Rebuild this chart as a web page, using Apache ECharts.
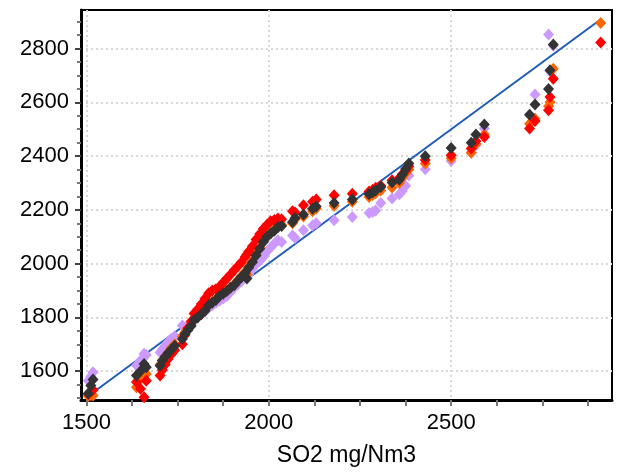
<!DOCTYPE html>
<html>
<head>
<meta charset="utf-8">
<script src="https://cdn.jsdelivr.net/npm/echarts@6/dist/echarts.min.js"></script>
<style>html,body{margin:0;padding:0;background:#fff}#c{width:624px;height:474px}</style>
</head>
<body>
<div id="c"></div>
<script>
// Shared x values (SO2 mg/Nm3)
var xs = [1505,1512,1518,1637,1648,1658,1664,1702,1708,1716,1724,1732,1742,1763,1770,1778,1787,
  1795,1805,1815,1825,1835,1845,1855,1865,1875,1885,1895,1905,1915,1925,1935,1940,1945,1955,1965,1975,1985,1995,2005,2015,2025,2035,
  2065,2072,2095,2120,2130,2179,2229,2275,2285,2293,2307,2338,2358,2366,2375,2384,2429,2500,2555,2568,2591,2715,2730,2767,2771,2780,2910];
var purpleY = [1565,1580,1596,1621,1640,1665,1660,1670,1682,1695,1710,1720,1730,1770,1760,1770,1778,
  1795,1805,1812,1822,1835,1845,1855,1862,1870,1880,1895,1910,1922,1935,1948,1950,1960,1980,2000,2010,2025,2045,2060,2075,2087,2080,
  2105,2095,2124,2142,2150,2161,2173,2188,2192,2198,2225,2242,2258,2270,2290,2328,2351,2382,2412,2440,2502,2554,2629,2852,2715,2810,null];
var orangeY = [1508,1512,1510,1540,1570,1600,1590,1625,1640,1655,1670,1685,1700,1730,1745,1760,1775,
  1795,1805,1815,1828,1848,1858,1868,1882,1890,1900,1912,1922,1938,1955,1970,1960,1990,2010,2035,2060,2085,2105,2118,2128,2140,2145,
  2150,2165,2175,2195,2205,2215,2230,2248,2255,2262,2272,2283,2300,2318,2335,2350,2372,2392,2412,2445,2480,2520,2539,2585,2600,2725,2895];
var redY = [1515,1525,1530,1560,1535,1503,1565,1584,1605,1625,1645,1662,1678,1700,1735,1760,1785,
  1815,1830,1850,1870,1890,1900,1905,1915,1930,1945,1960,1975,1990,2005,2025,2035,2045,2065,2090,2110,2130,2145,2158,2162,2168,2165,
  2195,2190,2217,2230,2238,2254,2260,2268,2275,2282,2290,2310,2318,2332,2345,2362,2385,2403,2428,2455,2471,2502,2530,2570,2620,2687,2822];
var darkY = [1517,1547,1569,1584,1600,1627,1615,1620,1640,1655,1668,1680,1695,1720,1738,1752,1768,
  1790,1800,1812,1825,1845,1855,1865,1880,1888,1898,1910,1920,1935,1950,1965,1945,1985,2005,2030,2055,2080,2100,2112,2122,2135,2140,
  2155,2170,2183,2204,2212,2225,2238,2258,2265,2272,2285,2302,2312,2330,2352,2372,2399,2430,2449,2480,2517,2554,2592,2649,2719,2815,null];
// identity reference line end points
var lineX = [1519, 2904];
var lineY = [1522, 2902];
// ticks
var xMajorTicks = [1500, 2000, 2500];
var xMinorTicks = [1625,1750,1875,2125,2250,2375,2625,2750,2875];
var yMajorTicks = [1600, 1800, 2000, 2200, 2400, 2600, 2800];
var yMinorTicks = [1500,1550,1650,1700,1750,1850,1900,1950,2050,2100,2150,2250,2300,2350,2450,2500,2550,2650,2700,2750,2850,2900];
var xName = 'SO2 mg/Nm3';

function zip(x, y) {
  var out = [];
  for (var i = 0; i < x.length; i++) { if (y[i] != null) out.push([x[i], y[i]]); }
  return out;
}
function plain(v) { return String(Math.round(v)); }

var XMIN = 1485, XMAX = 2941, YMIN = 1493, YMAX = 2943;
var font = 'Liberation Sans, Arial, sans-serif';
var grid = { left: 81, right: 12, top: 10, bottom: 74, show: true, borderColor: '#000', borderWidth: 2, backgroundColor: '#fff' };
var splitStyle = { show: true, lineStyle: { color: '#d8d8d8', width: 2, type: [2, 3] } };

var chart = echarts.init(document.getElementById('c'));
var mk = function (name, color, ys, z) {
  return { name: name, type: 'scatter', symbol: 'diamond', symbolSize: [11, 12], data: zip(xs, ys),
    itemStyle: { color: color, opacity: 1 }, z: z, clip: true, animation: false };
};
chart.setOption({
  animation: false,
  grid: grid,
  xAxis: [{
    type: 'value', min: XMIN, max: XMAX, position: 'bottom',
    name: xName, nameLocation: 'middle', nameGap: 44,
    nameTextStyle: { fontFamily: font, fontSize: 23, color: '#000' },
    axisLine: { onZero: false, lineStyle: { color: '#000', width: 3 } },
    axisTick: { show: true, customValues: xMajorTicks, length: 6, lineStyle: { color: '#777', width: 2 } },
    axisLabel: { customValues: xMajorTicks, formatter: plain, margin: 12, fontFamily: font, fontSize: 22, color: '#000' },
    splitLine: splitStyle
  }, {
    type: 'value', min: XMIN, max: XMAX, position: 'bottom',
    axisLine: { show: false, onZero: false },
    axisTick: { show: true, customValues: xMinorTicks, length: 6, lineStyle: { color: '#777', width: 2 } },
    axisLabel: { show: false },
    splitLine: { show: false }
  }],
  yAxis: [{
    type: 'value', min: YMIN, max: YMAX, position: 'left',
    axisLine: { onZero: false, lineStyle: { color: '#000', width: 3 } },
    axisTick: { show: true, customValues: yMajorTicks, length: 6, lineStyle: { color: '#444', width: 2 } },
    axisLabel: { customValues: yMajorTicks, formatter: plain, margin: 12, fontFamily: font, fontSize: 22, color: '#000' },
    splitLine: splitStyle
  }, {
    type: 'value', min: YMIN, max: YMAX, position: 'left',
    axisLine: { show: false, onZero: false },
    axisTick: { show: true, customValues: yMinorTicks, length: 4, lineStyle: { color: '#777', width: 2 } },
    axisLabel: { show: false },
    splitLine: { show: false }
  }],
  series: [
    { type: 'line', data: zip(lineX, lineY), symbol: 'none', lineStyle: { color: '#1f5cb8', width: 2 }, z: 1, silent: true },
    mk('purple', '#cc99ff', purpleY, 2),
    mk('orange', '#ff6600', orangeY, 3),
    mk('red', '#ff0000', redY, 4),
    mk('dark', '#333333', darkY, 5)
  ]
});
</script>
</body>
</html>
